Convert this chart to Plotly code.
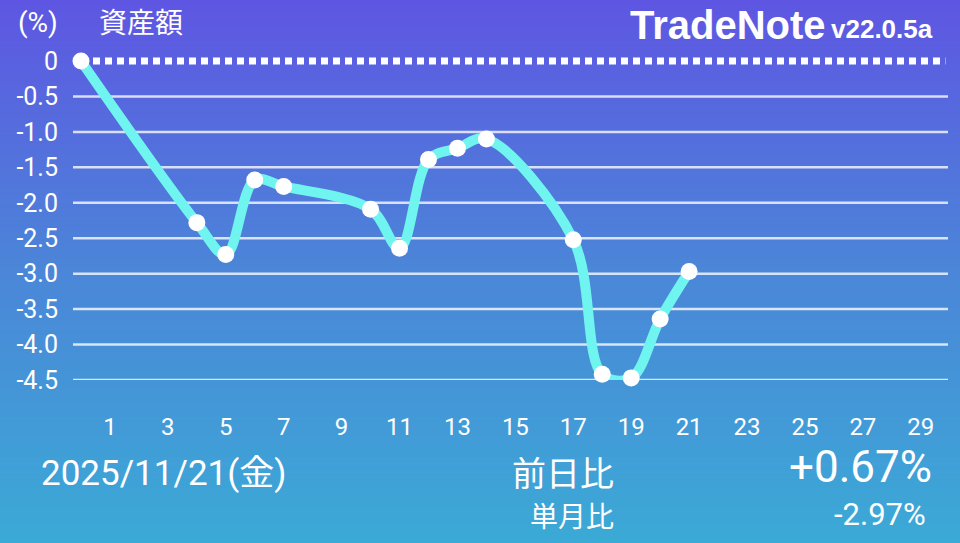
import plotly.graph_objects as go

W, H = 960, 543

days = [0, 4, 5, 6, 7, 10, 11, 12, 13, 14, 17, 18, 19, 20, 21]
values = [0.0, -2.28, -2.73, -1.68, -1.77, -2.09, -2.64, -1.39, -1.23, -1.10, -2.52, -4.42, -4.47, -3.64, -2.97]
y_ticks = [0, -0.5, -1.0, -1.5, -2.0, -2.5, -3.0, -3.5, -4.0, -4.5]
y_ticktext = ["0", "-0.5", "-1.0", "-1.5", "-2.0", "-2.5", "-3.0", "-3.5", "-4.0", "-4.5"]
x_ticks = list(range(1, 30, 2))
baseline = 0.0

def px_x(x):
    return x / W

def px_y(y):
    return 1 - y / H

def lerp(c1, c2, t):
    return tuple(round(a + (b - a) * t) for a, b in zip(c1, c2))

top_c = (94, 86, 226)
mid_c = (75, 134, 216)
bot_c = (59, 170, 214)

shapes = []
N = 120
for i in range(N):
    t = (i + 0.5) / N  # from top
    if t < 0.5:
        c = lerp(top_c, mid_c, t / 0.5)
    else:
        c = lerp(mid_c, bot_c, (t - 0.5) / 0.5)
    y1 = 1 - i / N
    y0 = 1 - (i + 1) / N - 0.002
    shapes.append(dict(type="rect", xref="paper", yref="paper", x0=0, x1=1, y0=y0, y1=y1,
                       fillcolor="rgb(%d,%d,%d)" % c, line=dict(width=0), layer="below"))

for v in y_ticks[1:]:
    shapes.append(dict(type="line", xref="x domain", yref="y", x0=0, x1=1, y0=v, y1=v,
                       line=dict(color="rgba(255,255,255,0.78)", width=2.5), layer="below"))

shapes.append(dict(type="line", xref="x", yref="y", x0=days[0], x1=29.85, y0=baseline, y1=baseline,
                   line=dict(color="white", width=7, dash="7px,5px"), layer="below"))

fig = go.Figure()
fig.add_trace(go.Scatter(
    x=days, y=values, mode="lines+markers",
    line=dict(color="#70F4EF", width=10, shape="spline", smoothing=1.0),
    marker=dict(color="white", size=17, line=dict(width=0)),
    cliponaxis=False, hoverinfo="skip"))

font_num = "Roboto, 'Noto Sans CJK JP', sans-serif"
font_jp = "'Noto Sans CJK JP', Roboto, sans-serif"
font_logo = "'Liberation Sans', Arial, sans-serif"

annotations = [
    dict(x=px_x(38), y=px_y(22), text="(%)", font=dict(size=28, color="white", family=font_num)),
    dict(x=px_x(141), y=px_y(21), text="資産額", font=dict(size=28, color="white", family=font_jp)),
    dict(x=px_x(828), y=px_y(25), text="<b>TradeNote</b>", xanchor="right",
         font=dict(size=40, color="white", family=font_logo)),
    dict(x=px_x(829), y=px_y(29), text="<b>v22.0.5a</b>", xanchor="left",
         font=dict(size=26, color="white", family=font_logo)),
    dict(x=px_x(39), y=px_y(473), text="2025/11/21(金)", xanchor="left",
         font=dict(size=35, color="white", family=font_num)),
    dict(x=px_x(616), y=px_y(471), text="前日比", xanchor="right",
         font=dict(size=34, color="white", family=font_jp)),
    dict(x=px_x(616), y=px_y(515), text="単月比", xanchor="right",
         font=dict(size=28, color="white", family=font_jp)),
    dict(x=px_x(934), y=px_y(467), text="+0.67%", xanchor="right",
         font=dict(size=44, color="white", family=font_num)),
    dict(x=px_x(928), y=px_y(514), text="-2.97%", xanchor="right",
         font=dict(size=31, color="white", family=font_num)),
]
for a in annotations:
    a.update(xref="paper", yref="paper", showarrow=False)
    a.setdefault("xanchor", "center")
    a["yanchor"] = "middle"

y_top = 0.15
px_per_unit = (380 - 61) / 4.5
top_px = 61 - y_top * px_per_unit

fig.update_layout(
    width=W, height=H,
    margin=dict(l=0, r=0, t=0, b=0),
    paper_bgcolor="#4B86D8", plot_bgcolor="rgba(0,0,0,0)",
    showlegend=False,
    shapes=shapes,
    annotations=annotations,
    xaxis=dict(domain=[73 / W, 948 / W], range=[-0.276, 29.94], tickvals=x_ticks,
               showgrid=False, zeroline=False, showline=False, ticks="",
               tickfont=dict(size=24, color="white", family=font_num),
               ticklabelstandoff=30, automargin=False, fixedrange=True),
    yaxis=dict(domain=[1 - 380 / H, 1 - top_px / H], range=[-4.5, y_top], tickvals=y_ticks, ticktext=y_ticktext,
               showgrid=False, zeroline=False, showline=False, ticks="",
               tickfont=dict(size=25, color="white", family=font_num),
               ticklabelstandoff=14, automargin=False, fixedrange=True),
)

fig.write_html("out.html", config={"displayModeBar": False, "staticPlot": True},
               post_script="document.body.style.margin='0';document.body.style.padding='0';")
